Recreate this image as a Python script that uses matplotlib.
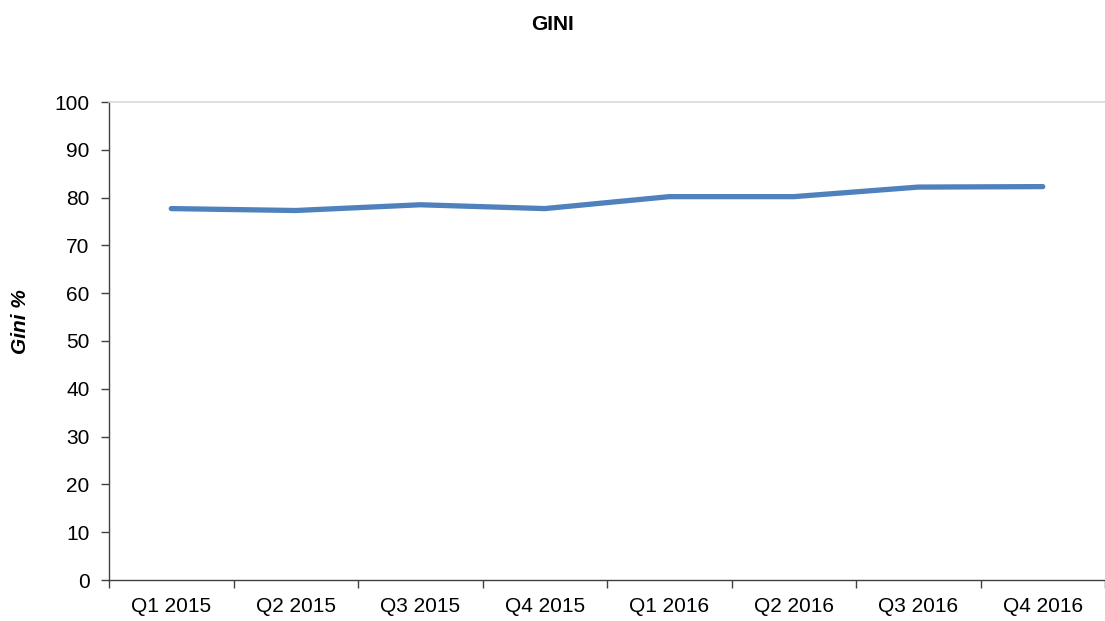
import matplotlib
matplotlib.use("Agg")
import matplotlib.pyplot as plt
from matplotlib.ticker import FixedLocator, MultipleLocator

categories = ["Q1 2015", "Q2 2015", "Q3 2015", "Q4 2015",
              "Q1 2016", "Q2 2016", "Q3 2016", "Q4 2016"]
gini = [77.7, 77.3, 78.5, 77.7, 80.2, 80.2, 82.2, 82.3]

plt.rcParams['font.family'] = ['Liberation Sans', 'DejaVu Sans']

fig = plt.figure(figsize=(11.05, 6.21), dpi=100)
ax = fig.add_axes([109 / 1105, 1 - 580 / 621, 996 / 1105, 478 / 621])

x = list(range(len(categories)))
ax.plot(x, gini, color="#4F81BD", linewidth=3.8, solid_capstyle="round", solid_joinstyle="round")

ax.set_xlim(-0.5, len(categories) - 0.5)
ax.set_ylim(0, 100)
ax.yaxis.set_major_locator(MultipleLocator(10))
ax.set_xticks(x)
ax.set_xticklabels(categories)
ax.xaxis.set_minor_locator(FixedLocator([i - 0.5 for i in range(len(categories) + 1)]))
ax.tick_params(axis="x", which="major", length=0, labelsize=15, pad=12)
ax.tick_params(axis="x", which="minor", length=6, width=1, color="#404040")
ax.tick_params(axis="y", length=6, width=1, color="#404040", labelsize=15, pad=8)

ax.spines["right"].set_visible(False)
ax.spines["top"].set_color("#D9D9D9")
ax.spines["top"].set_linewidth(1.2)
for s in ("left", "bottom"):
    ax.spines[s].set_color("#404040")
    ax.spines[s].set_linewidth(1)

fig.text(20 / 1105, 1 - 322 / 621, "Gini %", rotation=90, ha="center", va="center",
         fontsize=15, fontweight="bold", style="italic")
fig.text(0.5, 1 - 25 / 621, "GINI", ha="center", va="center", fontsize=15, fontweight="bold")

fig.savefig("out.png", dpi=100)
